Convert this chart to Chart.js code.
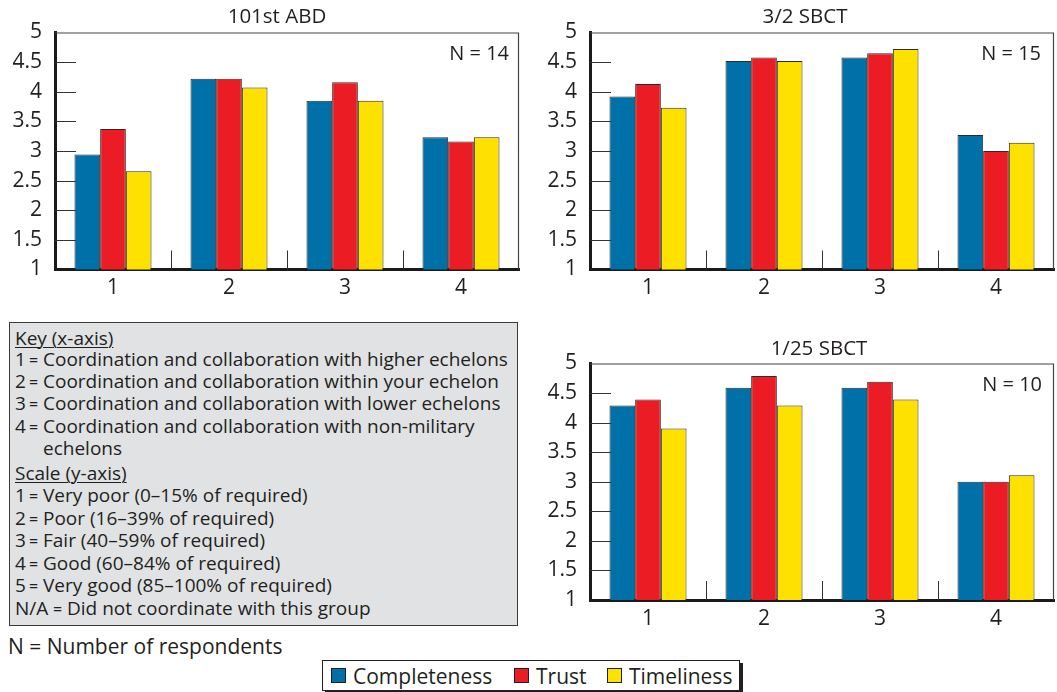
<!DOCTYPE html>
<html>
<head>
<meta charset="utf-8">
<script src="https://cdn.jsdelivr.net/npm/chart.js@4.4.1/dist/chart.umd.min.js"></script>
<style>
  html,body{margin:0;padding:0;background:#fff;}
  body{width:1057px;height:692px;overflow:hidden;position:relative;font-family:"Open Sans",sans-serif;color:#231f20;}
  canvas{position:absolute;}
  #key{position:absolute;left:9px;top:322px;width:509px;height:304px;background:#e1e2e4;border:1px solid #3a3a3a;box-sizing:border-box;}
  .kl{position:absolute;font-size:19px;line-height:22px;white-space:nowrap;}
  .kn{display:inline-block;}
  .ke{display:inline-block;font-size:16px;box-sizing:border-box;}
  .u{text-decoration:underline;text-underline-offset:2px;text-decoration-thickness:1px;}
  #nresp{position:absolute;left:8px;top:634px;font-size:21px;line-height:24px;white-space:nowrap;}
  #legend{position:absolute;left:322px;top:660px;width:418px;height:31px;border:1px solid #231f20;box-sizing:border-box;background:#fff;box-shadow:3px 3px 0 #231f20;}
  .sw{position:absolute;top:7px;width:15px;height:15px;border:1px solid #231f20;box-sizing:border-box;}
  .lt{position:absolute;top:3px;font-size:21px;line-height:24px;white-space:nowrap;}
</style>
</head>
<body>
<canvas id="c1" width="545" height="300" style="left:0;top:0;"></canvas>
<canvas id="c2" width="522" height="300" style="left:535px;top:0;"></canvas>
<canvas id="c3" width="522" height="300" style="left:535px;top:331px;"></canvas>

<div id="key"></div>
<div id="nresp">N = Number of respondents</div>
<div id="legend"></div>

<script>
// ---------- data ----------
const categories = ['1', '2', '3', '4'];
const seriesNames = ['Completeness', 'Trust', 'Timeliness'];
const seriesColors = ['#0070a8', '#ec1c24', '#ffe100'];
const yTicks = [1, 1.5, 2, 2.5, 3, 3.5, 4, 4.5, 5];

const abdCompleteness = [2.94, 4.22, 3.85, 3.23];
const abdTrust        = [3.37, 4.22, 4.16, 3.16];
const abdTimeliness   = [2.66, 4.07, 3.85, 3.23];

const sbct32Completeness = [3.92, 4.52, 4.58, 3.27];
const sbct32Trust        = [4.13, 4.58, 4.65, 3.00];
const sbct32Timeliness   = [3.73, 4.52, 4.72, 3.14];

const sbct125Completeness = [4.29, 4.59, 4.59, 3.00];
const sbct125Trust        = [4.39, 4.79, 4.69, 3.00];
const sbct125Timeliness   = [3.90, 4.29, 4.39, 3.11];

const chartTitles = ['101st ABD', '3/2 SBCT', '1/25 SBCT'];
const respondents = [14, 15, 10];

const keyLines = [
  {t:'Key (x-axis)', u:true},
  {k:'1', t:'Coordination and collaboration with higher echelons'},
  {k:'2', t:'Coordination and collaboration within your echelon'},
  {k:'3', t:'Coordination and collaboration with lower echelons'},
  {k:'4', t:'Coordination and collaboration with non-military'},
  {t:'echelons', indent:true},
  {t:'Scale (y-axis)', u:true},
  {k:'1', t:'Very poor (0\u201315% of required)'},
  {k:'2', t:'Poor (16\u201339% of required)'},
  {k:'3', t:'Fair (40\u201359% of required)'},
  {k:'4', t:'Good (60\u201384% of required)'},
  {k:'5', t:'Very good (85\u2013100% of required)'},
  {k:'N/A', t:'Did not coordinate with this group'}
];
</script>

<script>
// ---------- key & legend ----------
const keyBaselines = [345, 366.7, 388.3, 410.7, 433.3, 455.7, 480.7, 502.7, 525.7, 547.7, 570.3, 592.3, 615];
const keyEl = document.getElementById('key');
keyLines.forEach((ln, i) => {
  const d = document.createElement('div');
  d.className = 'kl';
  if (ln.k) {
    const wide = ln.k.length > 1;
    const k = document.createElement('span');
    k.className = 'kn';
    k.style.width = (wide ? 35 : 14) + 'px';
    k.textContent = ln.k;
    d.appendChild(k);
    const e = document.createElement('span');
    e.className = 'ke';
    e.style.width = (wide ? 17 : 14) + 'px';
    e.style.paddingLeft = (wide ? 3 : 0) + 'px';
    e.textContent = '=';
    d.appendChild(e);
  }
  const s = document.createElement('span');
  if (ln.u) s.className = 'u';
  s.textContent = ln.t;
  d.appendChild(s);
  d.style.left = (ln.indent ? 33 : 5) + 'px';
  d.style.top = (keyBaselines[i] - 18.4 - 323) + 'px';
  keyEl.appendChild(d);
});

const legEl = document.getElementById('legend');
const swX = [8, 191, 284];
const txX = [30, 213, 306];
seriesNames.forEach((n, i) => {
  const sw = document.createElement('div');
  sw.className = 'sw';
  sw.style.left = swX[i] + 'px';
  sw.style.background = seriesColors[i];
  legEl.appendChild(sw);
  const t = document.createElement('div');
  t.className = 'lt';
  t.style.left = txX[i] + 'px';
  t.textContent = n;
  legEl.appendChild(t);
});

// ---------- charts ----------
const INK = '#231f20';
const FONT = '"Open Sans", sans-serif';

const decor = {
  id: 'decor',
  afterDraw(chart, args, o) {
    const {ctx, chartArea: a, scales: {x, y}} = chart;
    ctx.save();
    // thin frame (top & right)
    ctx.strokeStyle = '#444';
    ctx.lineWidth = 1.2;
    ctx.beginPath();
    ctx.moveTo(a.left, a.top + 0.5);
    ctx.lineTo(a.right - 0.5, a.top + 0.5);
    ctx.lineTo(a.right - 0.5, a.bottom);
    ctx.stroke();
    // inner y tick marks
    ctx.strokeStyle = '#333';
    ctx.lineWidth = 1;
    ctx.beginPath();
    yTicks.filter(v => v > 1 && v < 5).forEach(v => {
      const py = Math.round(y.getPixelForValue(v)) + 0.5;
      ctx.moveTo(a.left, py);
      ctx.lineTo(a.left + 21, py);
    });
    // category separators
    for (let i = 0; i < categories.length - 1; i++) {
      const px = Math.round((x.getPixelForValue(i) + x.getPixelForValue(i + 1)) / 2) + 0.5;
      ctx.moveTo(px, a.bottom - 19);
      ctx.lineTo(px, a.bottom);
    }
    ctx.stroke();
    // title
    ctx.fillStyle = INK;
    ctx.font = '20.5px ' + FONT;
    ctx.textAlign = 'center';
    ctx.textBaseline = 'alphabetic';
    ctx.fillText(o.title, o.titleX, o.titleY);
    // N label
    ctx.font = '20px ' + FONT;
    ctx.textAlign = 'right';
    ctx.fillText('N = ' + o.n, a.right - o.nInset, a.top + 27);
    ctx.restore();
  }
};

function makeChart(id, vals, idx, titleX, titleY, padRight, padTop, xHeight, nInset) {
  return new Chart(document.getElementById(id), {
    type: 'bar',
    data: {
      labels: categories,
      datasets: seriesNames.map((n, i) => ({
        label: n,
        data: vals[i],
        backgroundColor: seriesColors[i],
        borderColor: '#2b2b2b',
        borderWidth: 1,
        barPercentage: 1,
        categoryPercentage: 0.664
      }))
    },
    options: {
      responsive: false,
      animation: false,
      events: [],
      devicePixelRatio: 1,
      layout: {padding: {top: padTop, right: padRight, left: 0, bottom: 0}},
      plugins: {
        legend: {display: false},
        tooltip: {enabled: false},
        title: {display: false},
        decor: {title: chartTitles[idx], n: respondents[idx], titleX, titleY, nInset}
      },
      scales: {
        x: {
          grid: {display: true, drawOnChartArea: false, drawTicks: false},
          border: {display: true, width: 3, color: '#1a1a1a'},
          ticks: {color: INK, font: {family: FONT, size: 21}, padding: 6},
          afterFit: s => { s.height = xHeight; }
        },
        y: {
          min: 1, max: 5,
          afterBuildTicks: s => { s.ticks = yTicks.map(v => ({value: v})); },
          grid: {display: true, drawOnChartArea: false, drawTicks: false},
          border: {display: true, width: 3, color: '#1a1a1a'},
          ticks: {color: INK, font: {family: FONT, size: 21}, padding: 13, callback: v => String(v)},
          afterFit: s => { s.width = 55; }
        }
      }
    },
    plugins: [decor]
  });
}

makeChart('c1', [abdCompleteness, abdTrust, abdTimeliness], 0, 277, 23, 26, 32.5, 30.5, 10);
makeChart('c2', [sbct32Completeness, sbct32Trust, sbct32Timeliness], 1, 270, 23, 3, 32.5, 30.5, 13);
makeChart('c3', [sbct125Completeness, sbct125Trust, sbct125Timeliness], 2, 284, 24, 3, 32.5, 31, 12);
</script>
</body>
</html>
